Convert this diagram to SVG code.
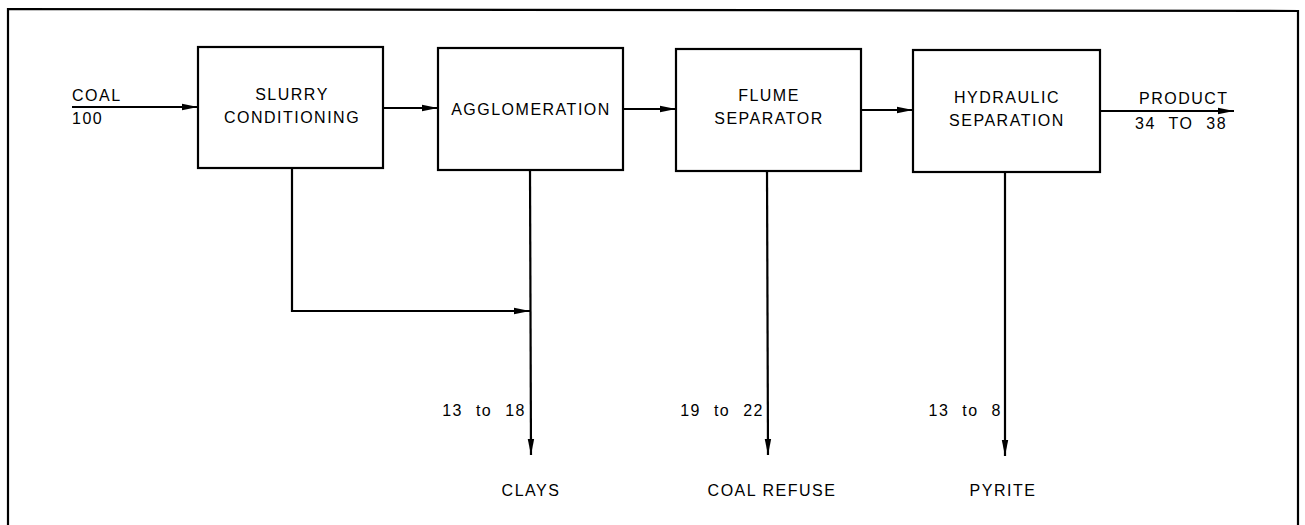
<svg xmlns="http://www.w3.org/2000/svg" width="1305" height="525" viewBox="0 0 1305 525">
<style>
.box{fill:#fff;stroke:#000;stroke-width:2.2}
.ln{fill:none;stroke:#000;stroke-width:2.2}
text{font-family:"Liberation Sans",Arial,sans-serif;font-size:16px;fill:#000;letter-spacing:1.5px}
.c{text-anchor:middle}
.r{text-anchor:end}
.w{word-spacing:7px}
</style>
<defs>
<marker id="ah" viewBox="0 0 16 8" refX="16" refY="4" markerWidth="16" markerHeight="8" markerUnits="userSpaceOnUse" orient="auto">
<path d="M0,0.8 L16,4 L0,7.2 Z" fill="#000"/>
</marker>
</defs>
<rect width="1305" height="525" fill="#fff"/>
<path d="M8,530 L8,9 L1298,11 L1298,530" class="ln"/>
<g id="slurry"><rect class="box" x="198" y="47" width="185" height="121"/><text class="c" x="292" y="100">SLURRY</text><text class="c" x="292" y="123">CONDITIONING</text></g>
<g id="agglomeration"><rect class="box" x="438" y="48" width="185" height="122"/><text class="c" x="531" y="115">AGGLOMERATION</text></g>
<g id="flume"><rect class="box" x="676" y="49" width="185" height="122"/><text class="c" x="769" y="101">FLUME</text><text class="c" x="769" y="124">SEPARATOR</text></g>
<g id="hydraulic"><rect class="box" x="913" y="50" width="187" height="122"/><text class="c" x="1007" y="103">HYDRAULIC</text><text class="c" x="1007" y="126">SEPARATION</text></g>
<g id="labels">
<text x="72" y="101">COAL</text><text x="72" y="124">100</text>
<text x="1139" y="104">PRODUCT</text><text class="w" x="1135" y="129">34 TO 38</text>
<text class="r w" x="526" y="416">13 to 18</text>
<text class="r w" x="764" y="416">19 to 22</text>
<text class="r w" x="1002" y="416">13 to 8</text>
<text class="c" x="531" y="496">CLAYS</text>
<text class="c" x="772" y="496">COAL REFUSE</text>
<text class="c" x="1003" y="496">PYRITE</text>
</g>
<g id="connectors">
<line class="ln" x1="72" y1="107" x2="198" y2="107" marker-end="url(#ah)"/>
<line class="ln" x1="383" y1="108" x2="438" y2="108" marker-end="url(#ah)"/>
<line class="ln" x1="623" y1="109" x2="676" y2="109" marker-end="url(#ah)"/>
<line class="ln" x1="861" y1="110" x2="913" y2="110" marker-end="url(#ah)"/>
<line class="ln" x1="1100" y1="111" x2="1234" y2="111" marker-end="url(#ah)"/>
<polyline class="ln" points="292,168 292,311 530,311" marker-end="url(#ah)"/>
<line class="ln" x1="530" y1="170" x2="531" y2="455" marker-end="url(#ah)"/>
<line class="ln" x1="767" y1="171" x2="768" y2="455" marker-end="url(#ah)"/>
<line class="ln" x1="1005" y1="172" x2="1005" y2="456" marker-end="url(#ah)"/>
</g>
</svg>
